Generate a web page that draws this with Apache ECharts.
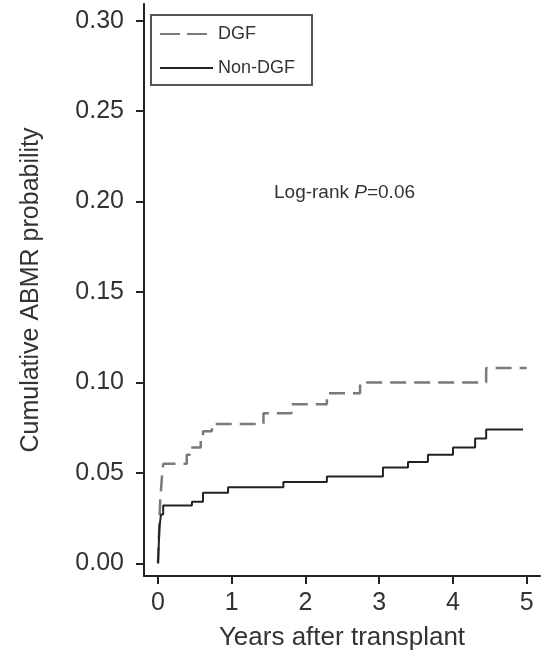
<!DOCTYPE html>
<html>
<head>
<meta charset="utf-8">
<script src="https://cdn.jsdelivr.net/npm/echarts@6/dist/echarts.min.js"></script>
<style>
  html, body { margin: 0; padding: 0; background: #fff; }
  #main { width: 551px; height: 656px; }
</style>
</head>
<body>
<div id="main"></div>
<script>
// cumulative ABMR curves, [years, probability]
var dgfTimes   = [0, 0.01, 0.02, 0.03, 0.05, 0.07, 0.39, 0.43, 0.58, 0.61, 0.73, 1.43, 1.81, 2.29, 2.74, 4.45, 5.00];
var dgfValues  = [0, 0.012, 0.024, 0.035, 0.046, 0.055, 0.060, 0.064, 0.068, 0.073, 0.077, 0.083, 0.088, 0.094, 0.100, 0.108, 0.108];
var nonTimes   = [0, 0.01, 0.02, 0.04, 0.07, 0.46, 0.61, 0.95, 1.70, 2.29, 3.05, 3.39, 3.66, 4.00, 4.30, 4.45, 4.95];
var nonValues  = [0, 0.010, 0.020, 0.027, 0.032, 0.034, 0.039, 0.042, 0.045, 0.048, 0.053, 0.056, 0.060, 0.064, 0.069, 0.074, 0.074];
var xTicks = [0, 1, 2, 3, 4, 5];
var yTicks = [0, 0.05, 0.10, 0.15, 0.20, 0.25, 0.30];

function pairs(t, v) {
    var out = [];
    for (var i = 0; i < t.length; i++) out.push([t[i], v[i]]);
    return out;
}

var myChart = echarts.init(document.getElementById('main'));
var font = 'Liberation Sans, Arial, sans-serif';
var axisColor = '#222';
var option = {
    animation: false,
    textStyle: { fontFamily: font },
    grid: { left: 144, right: 11, top: 4, bottom: 80 },
    legend: {
        left: 151, top: 15,
        orient: 'vertical',
        padding: [10, 17, 8, 8],
        itemGap: 16,
        itemWidth: 53,
        itemHeight: 18,
        itemStyle: { opacity: 0 },
        borderColor: '#555',
        borderWidth: 2,
        textStyle: { fontSize: 18, color: '#333', fontFamily: font },
        data: [
            { name: 'DGF', lineStyle: { type: [20, 7] } },
            { name: 'Non-DGF' }
        ]
    },
    xAxis: {
        type: 'value',
        min: -0.19, max: 5.18,
        name: 'Years after transplant',
        nameLocation: 'middle',
        nameGap: 49,
        nameTextStyle: { fontSize: 26, color: '#333' },
        splitLine: { show: false },
        axisLine: { onZero: false, lineStyle: { color: axisColor, width: 2 } },
        axisTick: { customValues: xTicks, length: 8, lineStyle: { color: axisColor, width: 2 } },
        axisLabel: { customValues: xTicks, fontSize: 25, color: '#333', margin: 15 }
    },
    yAxis: {
        type: 'value',
        min: -0.007, max: 0.3092,
        name: 'Cumulative ABMR probability',
        nameLocation: 'middle',
        nameGap: 100,
        nameTextStyle: { fontSize: 25, color: '#333' },
        splitLine: { show: false },
        axisLine: { onZero: false, lineStyle: { color: axisColor, width: 2 } },
        axisTick: { customValues: yTicks, length: 8, lineStyle: { color: axisColor, width: 2 } },
        axisLabel: {
            customValues: yTicks, fontSize: 25, color: '#333', margin: 20,
            formatter: function (v) { return v.toFixed(2); }
        }
    },
    graphic: [{
        type: 'text',
        left: 274, top: 183,
        style: {
            text: '{a|Log-rank }{b|P}{a|=0.06}',
            rich: {
                a: { fontSize: 19, fill: '#333', fontFamily: font },
                b: { fontSize: 19, fill: '#333', fontFamily: font, fontStyle: 'italic' }
            }
        }
    }],
    series: [{
        name: 'DGF',
        type: 'line',
        step: 'end',
        showSymbol: false,
        symbol: 'none',
        color: '#7a7a7a',
        lineStyle: { color: '#7a7a7a', width: 2.5, type: [16, 8] },
        data: pairs(dgfTimes, dgfValues)
    }, {
        name: 'Non-DGF',
        type: 'line',
        step: 'end',
        showSymbol: false,
        symbol: 'none',
        color: '#222',
        lineStyle: { color: '#222', width: 2 },
        data: pairs(nonTimes, nonValues)
    }]
};
myChart.setOption(option);
</script>
</body>
</html>
